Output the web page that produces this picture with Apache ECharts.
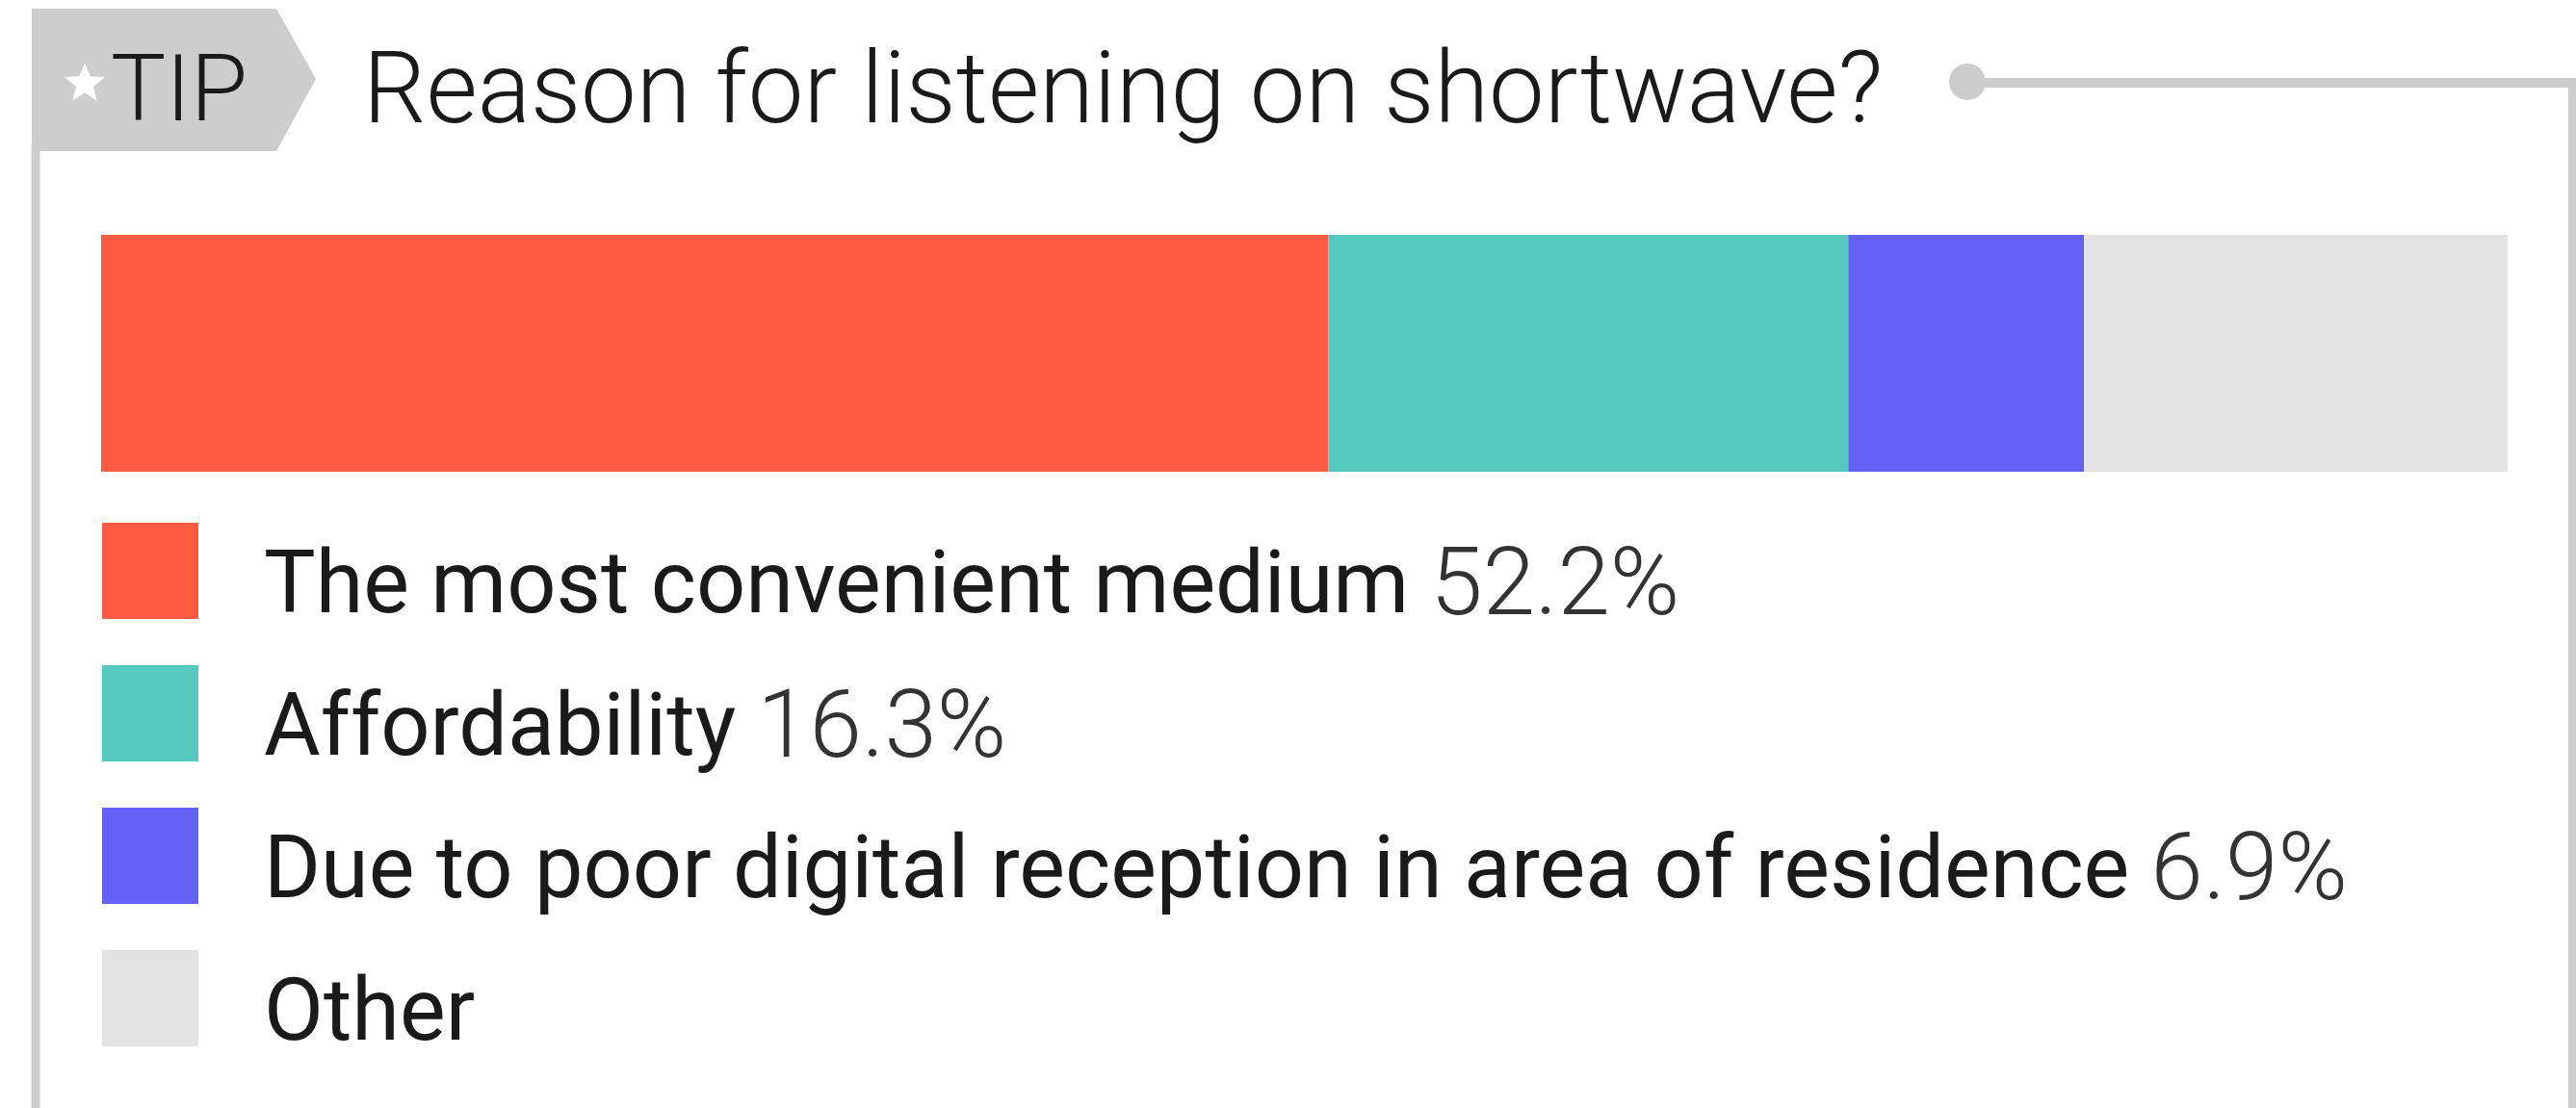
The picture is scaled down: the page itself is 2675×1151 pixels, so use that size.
<!DOCTYPE html>
<html>
<head>
<meta charset="utf-8">
<script src="https://cdn.jsdelivr.net/npm/echarts@6/dist/echarts.min.js"></script>
<style>
  html, body { margin: 0; padding: 0; background: #ffffff; }
  #chart { width: 2675px; height: 1151px; }
</style>
</head>
<body>
<div id="chart"></div>
<script>
// ---- data ----
var titleText = 'Reason for listening on shortwave?';
var tagText = 'TIP';
var categories = ['The most convenient medium', 'Affordability', 'Due to poor digital reception in area of residence', 'Other'];
// percentages printed in the legend (null = not printed)
var labelPercents = [52.2, 16.3, 6.9, null];
// segment widths as drawn in the stacked bar (share of full bar, %)
var barShares = [51.0, 21.6, 9.8, 17.6];
var colors = ['#FF5A44', '#55C9BD', '#6661F5', '#E3E3E3'];

// ---- chart ----
var chart = echarts.init(document.getElementById('chart'), null, { renderer: 'canvas' });

var series = categories.map(function (name, i) {
  return {
    name: name,
    type: 'bar',
    stack: 'total',
    barWidth: '100%',
    barCategoryGap: 0,
    silent: true,
    itemStyle: { color: colors[i] },
    data: [barShares[i]]
  };
});

function starPoints(cx, cy, ro, ri) {
  var pts = [];
  for (var k = 0; k < 10; k++) {
    var r = k % 2 === 0 ? ro : ri;
    var a = -Math.PI / 2 + k * Math.PI / 5;
    pts.push([cx + r * Math.cos(a), cy + r * Math.sin(a)]);
  }
  return pts;
}

var pctMap = {};
categories.forEach(function (c, i) { pctMap[c] = labelPercents[i]; });

var option = {
  backgroundColor: '#ffffff',
  animation: false,
  grid: { left: 105, right: 71, top: 244, height: 246 },
  xAxis: { type: 'value', min: 0, max: 100, show: false },
  yAxis: { type: 'category', data: ['share'], show: false },
  legend: {
    orient: 'vertical',
    left: 106,
    top: 523,
    padding: 0,
    itemWidth: 100,
    itemHeight: 100,
    itemGap: 8,
    icon: 'rect',
    selectedMode: false,
    data: categories,
    formatter: function (name) {
      var p = pctMap[name];
      return '{s| }{n|' + name + '}' + (p != null ? '{g| }{p|' + p.toFixed(1) + '%}' : '');
    },
    textStyle: {
      rich: {
        s: { width: 63, height: 140, lineHeight: 140, fontSize: 90 },
        n: { fontFamily: 'Roboto', fontSize: 90, fontWeight: 400, color: '#1a1a1a', height: 100, lineHeight: 100, verticalAlign: 'bottom' },
        g: { width: 22, fontSize: 90, height: 100, lineHeight: 100, verticalAlign: 'bottom' },
        p: { fontFamily: 'Roboto', fontSize: 98, fontWeight: 300, color: '#333333', height: 100, lineHeight: 100, verticalAlign: 'bottom' }
      }
    }
  },
  graphic: [
    { type: 'line', silent: true, shape: { x1: 37, y1: 150, x2: 37, y2: 1151 }, style: { stroke: '#cccccc', lineWidth: 9 } },
    { type: 'polygon', silent: true, shape: { points: [[33, 9], [287, 9], [328, 82], [287, 157], [33, 157]] }, style: { fill: '#cdcdcd' } },
    { type: 'polygon', silent: true, shape: { points: starPoints(88, 87, 22, 9.5) }, style: { fill: '#ffffff' } },
    { type: 'text', silent: true, x: 115, y: 101, style: { text: tagText, fontFamily: 'Roboto', fontWeight: 300, fontSize: 96, fill: '#1a1a1a', verticalAlign: 'middle', align: 'left' } },
    { type: 'text', silent: true, x: 377, y: 101, style: { text: titleText, fontFamily: 'Roboto', fontWeight: 300, fontSize: 103, fill: '#1a1a1a', verticalAlign: 'middle', align: 'left' } },
    { type: 'line', silent: true, shape: { x1: 2043, y1: 86, x2: 2671, y2: 86 }, style: { stroke: '#cccccc', lineWidth: 10 } },
    { type: 'line', silent: true, shape: { x1: 2671, y1: 81, x2: 2671, y2: 1151 }, style: { stroke: '#cccccc', lineWidth: 8 } },
    { type: 'circle', silent: true, shape: { cx: 2043, cy: 85, r: 19 }, style: { fill: '#cccccc' } }
  ],
  series: series
};
chart.setOption(option);
</script>
</body>
</html>
